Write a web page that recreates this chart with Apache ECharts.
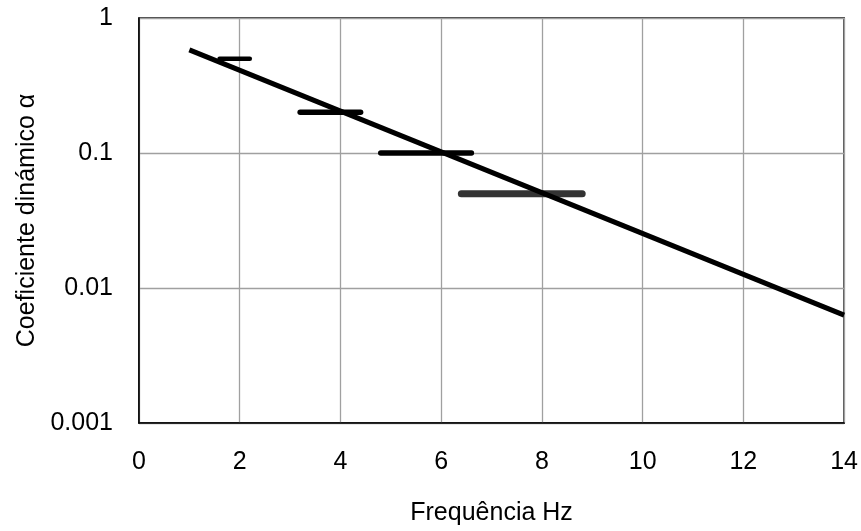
<!DOCTYPE html>
<html>
<head>
<meta charset="utf-8">
<script src="https://cdn.jsdelivr.net/npm/echarts@6/dist/echarts.min.js"></script>
<style>
  html, body { margin: 0; padding: 0; background: #fff; }
  #chart { width: 861px; height: 531px; }
</style>
</head>
<body>
<div id="chart"></div>
<script>
// Dynamic coefficient curve (straight on a log scale)
const curveFreq = [1, 14];
const curveAlpha = [0.58, 0.0063];

// Step values of the coefficient per frequency band
const bandAlpha = [0.5, 0.2, 0.1, 0.05];
const bandStart = [1.6, 3.2, 4.8, 6.4];
const bandEnd = [2.2, 4.4, 6.6, 8.8];

// Axis ticks
const xTicks = [0, 2, 4, 6, 8, 10, 12, 14];
const yTicks = ['0.001', '0.01', '0.1', '1'];

const chart = echarts.init(document.getElementById('chart'), null, { renderer: 'canvas' });

const font = 'Liberation Sans, Arial, sans-serif';
const fs = 25;

const bandSeries = bandAlpha.map((a, i) => ({
  type: 'line',
  data: [[bandStart[i], a], [bandEnd[i], a]],
  symbol: 'none',
  silent: true,
  z: 3,
  lineStyle: {
    color: i === 3 ? '#333333' : '#000000',
    width: i === 3 ? 7 : (i === 0 ? 4.5 : 5.5),
    cap: 'round'
  }
}));

chart.setOption({
  animation: false,
  grid: {
    left: 139, right: 16, top: 18, bottom: 105,
    show: true, borderColor: '#000', borderWidth: 1.5, backgroundColor: 'transparent'
  },
  xAxis: {
    type: 'value',
    min: xTicks[0], max: xTicks[xTicks.length - 1], interval: 2,
    name: 'Frequência Hz',
    nameLocation: 'middle',
    nameGap: 78,
    nameTextStyle: { fontFamily: font, fontSize: fs, color: '#000' },
    axisLine: { show: true, lineStyle: { color: '#000', width: 1.5 } },
    axisTick: { show: false },
    axisLabel: { fontFamily: font, fontSize: fs, color: '#000', margin: 27 },
    splitLine: { show: true, lineStyle: { color: '#a0a0a0', width: 1.3 } }
  },
  yAxis: {
    type: 'log',
    logBase: 10,
    min: Number(yTicks[0]), max: Number(yTicks[yTicks.length - 1]),
    name: 'Coeficiente dinámico α',
    nameLocation: 'middle',
    nameGap: 99,
    nameTextStyle: { fontFamily: font, fontSize: fs, color: '#000' },
    axisLine: { show: true, lineStyle: { color: '#000', width: 1.5 } },
    axisTick: { show: false },
    axisLabel: {
      fontFamily: font, fontSize: fs, color: '#000', margin: 26,
      formatter: v => {
        const t = yTicks.find(s => Math.abs(Number(s) - v) / v < 1e-6);
        return t !== undefined ? t : '';
      }
    },
    splitLine: { show: true, lineStyle: { color: '#a0a0a0', width: 1.3 } }
  },
  series: [
    {
      type: 'line',
      data: curveFreq.map((f, i) => [f, curveAlpha[i]]),
      symbol: 'none',
      silent: true,
      z: 4,
      lineStyle: { color: '#000', width: 5, cap: 'butt' }
    },
    ...bandSeries
  ]
});
</script>
</body>
</html>
